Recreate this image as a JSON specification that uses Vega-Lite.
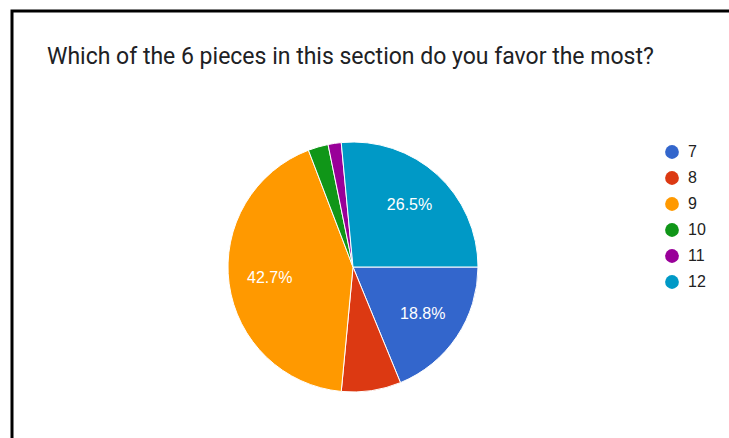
{
  "$schema": "https://vega.github.io/schema/vega-lite/v6.json",
  "width": 729,
  "height": 438,
  "autosize": {"type": "fit", "contains": "padding"},
  "padding": {"left": 12, "top": 11, "right": -6, "bottom": -6},
  "background": "white",
  "view": {"stroke": "black", "strokeWidth": 3, "fill": "white"},
  "config": {
    "font": "Roboto"
  },
  "title": {
    "text": "Which of the 6 pieces in this section do you favor the most?",
    "anchor": "start",
    "frame": "group",
    "orient": "top",
    "baseline": "alphabetic",
    "offset": -76,
    "dx": 35,
    "fontSize": 23,
    "fontWeight": "normal",
    "color": "#202124",
    "font": "Roboto"
  },
  "data": {
    "values": [
      {"piece": 7, "share": 0.188},
      {"piece": 8, "share": 0.077},
      {"piece": 9, "share": 0.427},
      {"piece": 10, "share": 0.026},
      {"piece": 11, "share": 0.017},
      {"piece": 12, "share": 0.265}
    ]
  },
  "encoding": {
    "theta": {"field": "share", "type": "quantitative", "stack": true, "scale": {"range": [1.5708, 7.854]}},
    "order": {"field": "piece", "type": "quantitative"}
  },
  "layer": [
    {
      "mark": {"type": "arc", "x": 341, "y": 256, "radius": 125, "stroke": "white", "strokeWidth": 1},
      "encoding": {
        "color": {
          "field": "piece",
          "type": "nominal",
          "scale": {"domain": [7, 8, 9, 10, 11, 12], "range": ["#3366cc", "#dc3912", "#ff9900", "#109618", "#990099", "#0099c6"]},
          "legend": {
            "title": null,
            "orient": "none",
            "legendX": 652,
            "legendY": 133,
            "symbolType": "circle",
            "symbolSize": 190,
            "symbolStrokeWidth": 0,
            "labelFontSize": 16,
            "labelColor": "#222222",
            "labelFont": "Liberation Sans",
            "labelOffset": 8,
            "rowPadding": 10
          }
        }
      }
    },
    {
      "mark": {"type": "text", "x": 341, "y": 256, "radius": 84, "color": "white", "fontSize": 16, "font": "Liberation Sans"},
      "encoding": {
        "text": {"condition": {"test": "datum.share > 0.1", "field": "share", "format": ".1%"}, "value": ""}
      }
    }
  ]
}
